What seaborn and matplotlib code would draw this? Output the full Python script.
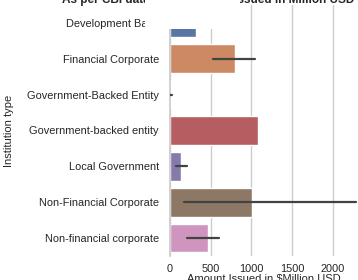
import matplotlib
matplotlib.use("Agg")
import matplotlib.pyplot as plt
import seaborn as sns
import pandas as pd
from matplotlib.patches import Rectangle

sns.set_theme(style="whitegrid", palette="deep")
plt.rcParams['font.family'] = ['Liberation Sans', 'DejaVu Sans']

# data
institutions = ['Development Bank', 'Financial Corporate', 'Government-Backed Entity',
                'Government-backed entity', 'Local Government', 'Non-Financial Corporate',
                'Non-financial corporate']
amounts = [320, 795, 8, 1085, 130, 1007, 463]
err_low = [320, 525, 0, 1085, 75, 172, 205]
err_high = [320, 1045, 30, 1085, 205, 2285, 606]

df = pd.DataFrame({'Institution type': institutions, 'Amount': amounts})

fig = plt.figure(figsize=(3.58, 2.8), dpi=100)
ax = fig.add_axes([170 / 358, 24 / 280, 188 / 358, 251 / 280])

sns.barplot(data=df, y='Institution type', x='Amount', hue='Institution type',
            palette='deep', errorbar=None, legend=False, ax=ax)
# error bars
for i in range(len(institutions)):
    if err_high[i] > err_low[i]:
        ax.plot([err_low[i], err_high[i]], [i, i], color='.26', lw=1.6, zorder=3)

ax.set_ylim(len(institutions) - 0.5, -0.5)
ax.set_xlim(0, 2310)
ax.set_xticks([0, 500, 1000, 1500, 2000])
ax.tick_params(axis='y', labelsize=7.9, pad=2)
ax.tick_params(axis='x', labelsize=7.9, pad=0)
ax.set_xlabel('Amount Issued in $Million USD', fontsize=8, labelpad=0)
ax.set_ylabel('Institution type', fontsize=8)
ax.yaxis.set_label_coords(-0.83, 0.5)
for s in ax.spines.values():
    s.set_visible(False)
ax.spines['left'].set_visible(True)
ax.spines['left'].set_color('#cccccc')

fig.text(62 / 358, 1 - 2.5 / 280, 'As per CBI data, Total Amount Issued in Million USD as per Institution type',
         fontsize=8.5, fontweight='bold', ha='left', va='baseline')

# white overlay covering the top of the image
fig.patches.append(Rectangle((145 / 358, 1 - 29 / 280), 95 / 358, 29 / 280,
                             transform=fig.transFigure, facecolor='white',
                             edgecolor='none', zorder=10))

fig.savefig('out.png', dpi=100)
